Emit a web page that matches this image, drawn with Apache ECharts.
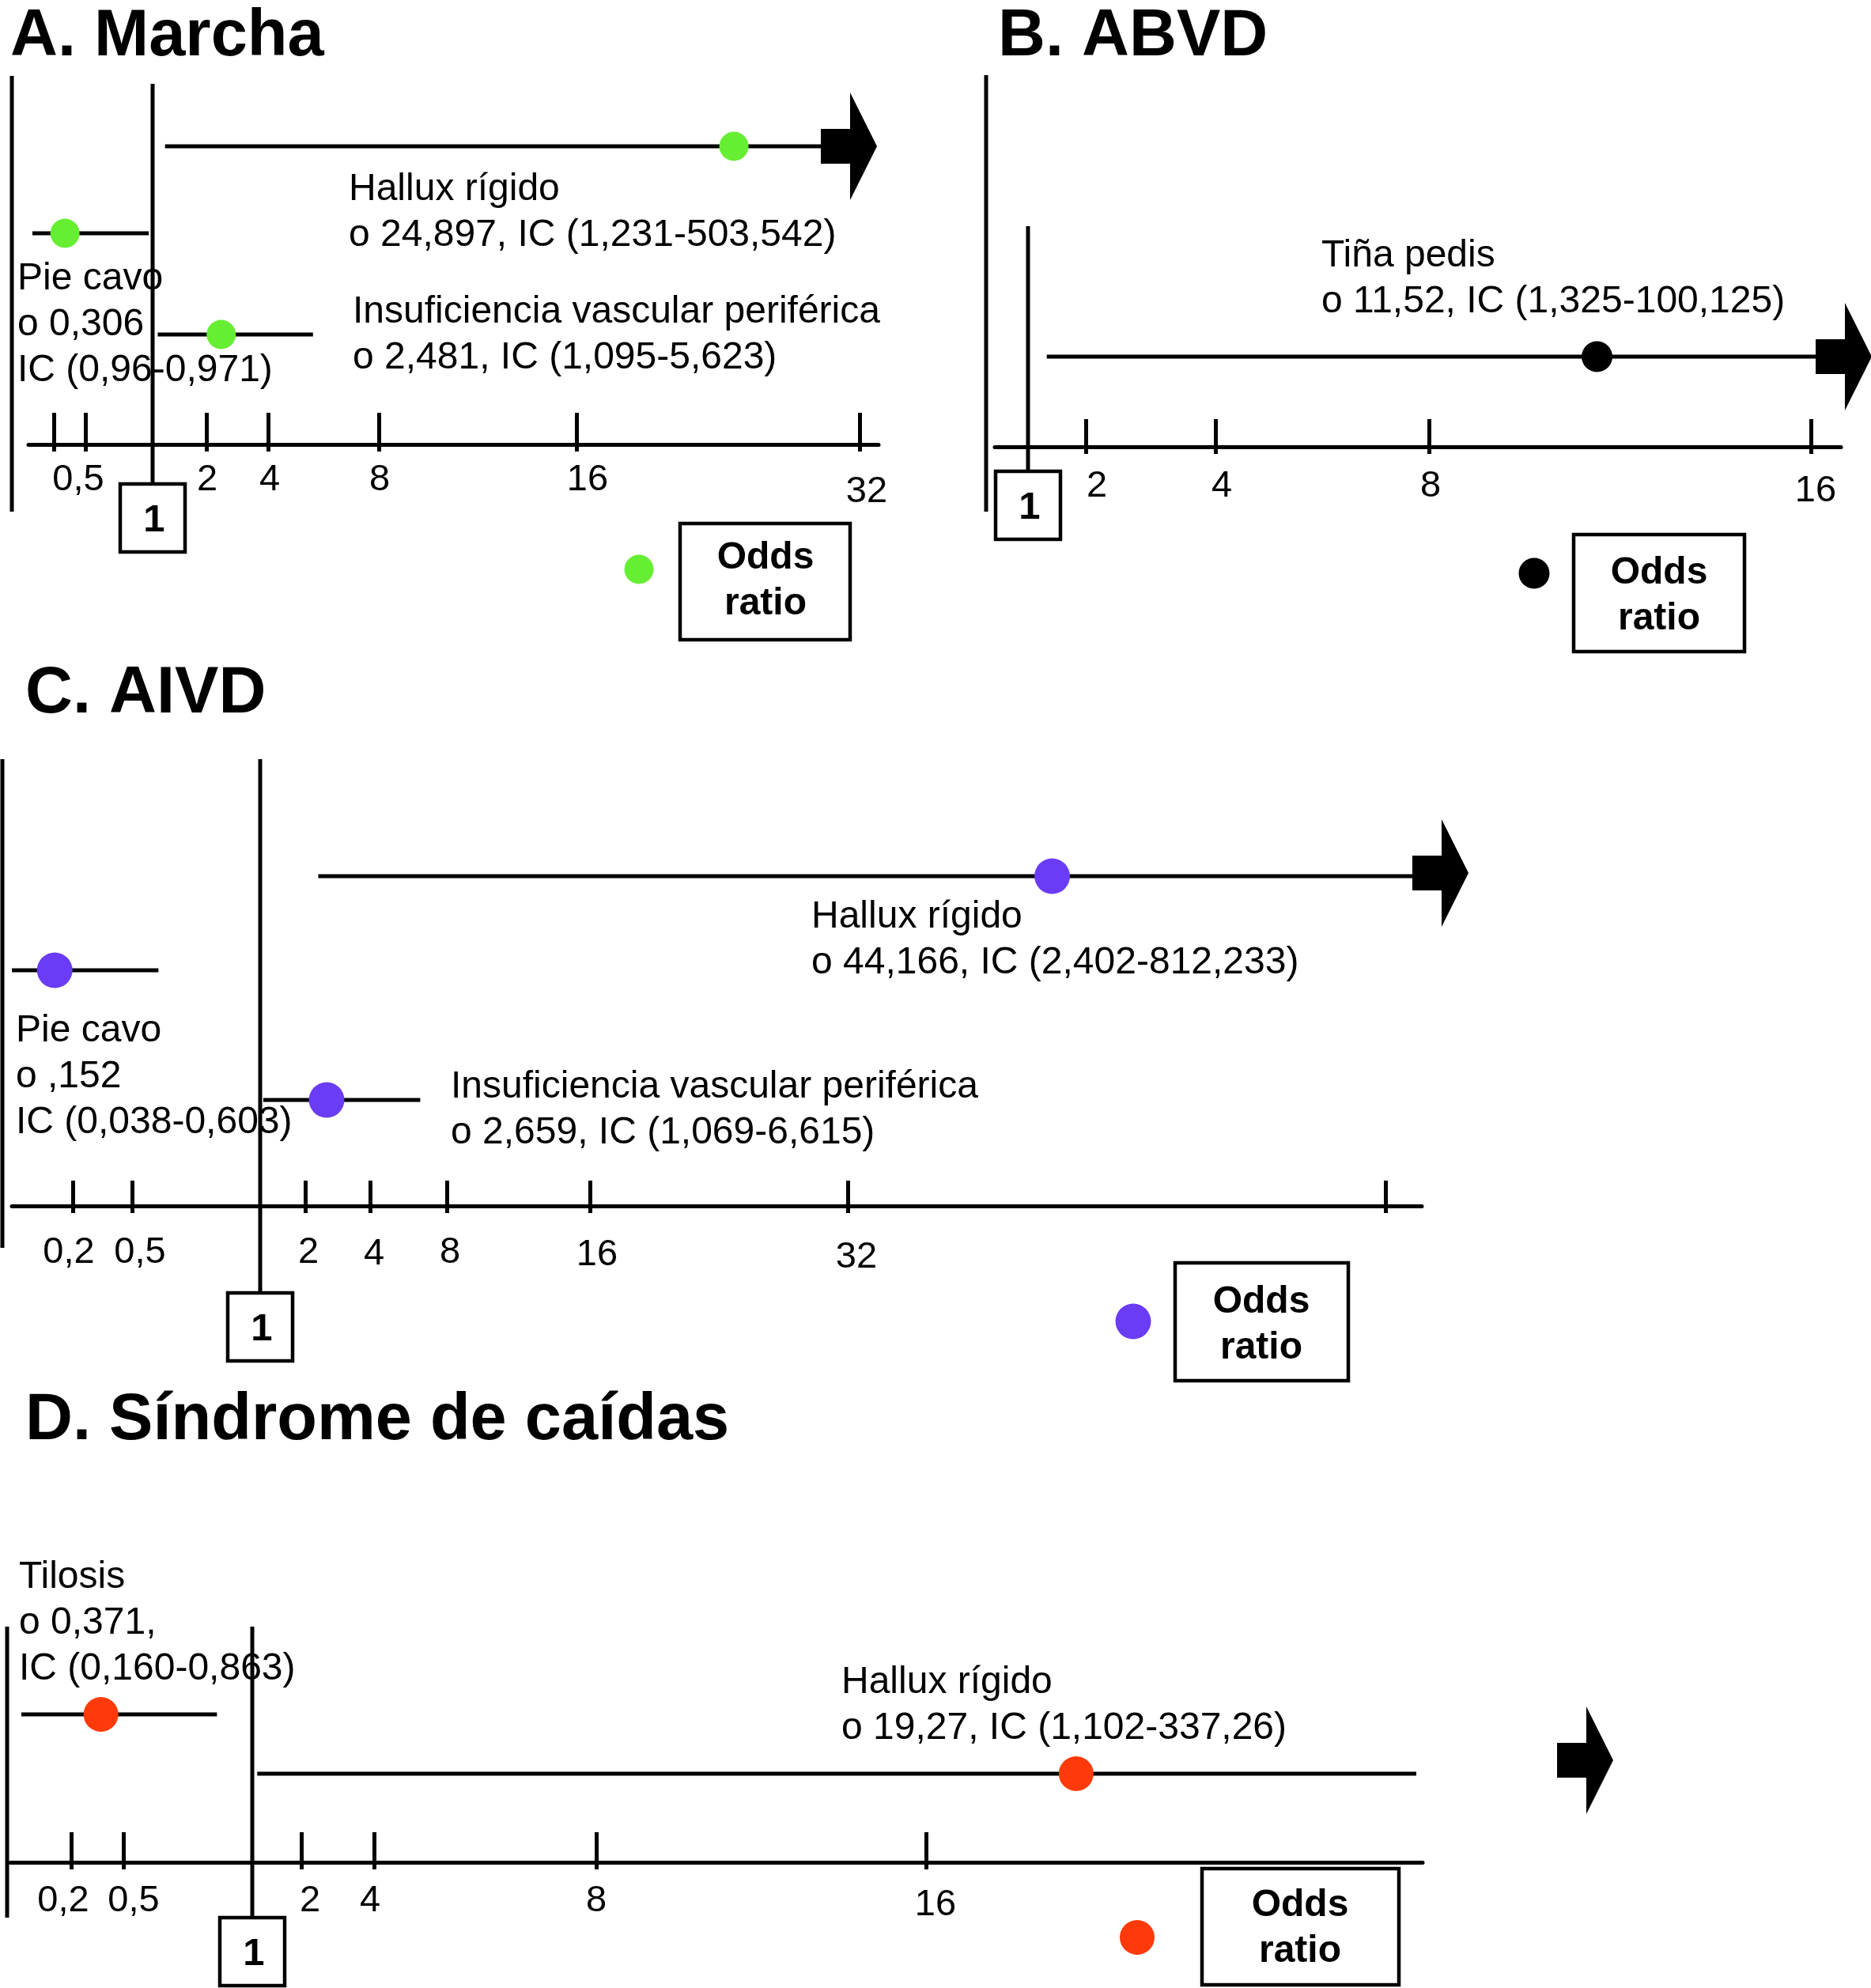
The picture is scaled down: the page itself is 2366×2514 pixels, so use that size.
<!DOCTYPE html>
<html>
<head>
<meta charset="utf-8">
<script src="https://cdn.jsdelivr.net/npm/echarts@6/dist/echarts.min.js"></script>
<style>
html,body{margin:0;padding:0;background:#ffffff;}
#chart{width:2366px;height:2514px;}
</style>
</head>
<body>
<div id="chart"></div>
<script>
// ===================== DATA =====================
// A. Marcha
const marchaFactors = ['Hallux rígido', 'Pie cavo', 'Insuficiencia vascular periférica'];
const marchaOR = [24.897, 0.306, 2.481];
const marchaLow = [1.231, 0.096, 1.095];
const marchaHigh = [503.542, 0.971, 5.623];
const marchaStats = ['o 24,897, IC (1,231-503,542)', 'o 0,306\nIC (0,96-0,971)', 'o 2,481, IC (1,095-5,623)'];
const marchaTicks = [0.2, 0.5, 2, 4, 8, 16, 32];
const marchaTickLabels = ['', '0,5', '2', '4', '8', '16', '32'];

// B. ABVD
const abvdFactors = ['Tiña pedis'];
const abvdOR = [11.52];
const abvdLow = [1.325];
const abvdHigh = [100.125];
const abvdStats = ['o 11,52, IC (1,325-100,125)'];
const abvdTicks = [2, 4, 8, 16];
const abvdTickLabels = ['2', '4', '8', '16'];

// C. AIVD
const aivdFactors = ['Hallux rígido', 'Pie cavo', 'Insuficiencia vascular periférica'];
const aivdOR = [44.166, 0.152, 2.659];
const aivdLow = [2.402, 0.038, 1.069];
const aivdHigh = [812.233, 0.603, 6.615];
const aivdStats = ['o 44,166, IC (2,402-812,233)', 'o ,152\nIC (0,038-0,603)', 'o 2,659, IC (1,069-6,615)'];
const aivdTicks = [0.2, 0.5, 2, 4, 8, 16, 32, 64];
const aivdTickLabels = ['0,2', '0,5', '2', '4', '8', '16', '32', ''];

// D. Síndrome de caídas
const caidasFactors = ['Tilosis', 'Hallux rígido'];
const caidasOR = [0.371, 19.27];
const caidasLow = [0.160, 1.102];
const caidasHigh = [0.863, 337.26];
const caidasStats = ['o 0,371,\nIC (0,160-0,863)', 'o 19,27, IC (1,102-337,26)'];
const caidasTicks = [0.2, 0.5, 2, 4, 8, 16];
const caidasTickLabels = ['0,2', '0,5', '2', '4', '8', '16'];

const panelTitles = ['A. Marcha', 'B. ABVD', 'C. AIVD', 'D. Síndrome de caídas'];
const refValue = 1;
const refLabel = '1';
const legendLabel = 'Odds\nratio';

// ===================== LAYOUT (pixels, styles) =====================
const FONT = "'Liberation Sans', Arial, Helvetica, sans-serif";
const LAYOUT = [
  { title:[13,47], axisY:562, x0:36, x1:1111, top:80, tickLen:40, labelMargin:45,
    tickPx:[68,108,261,339,479,729,1087], onePx:193, extra:[[0,16]],
    labelDx:[0,-9,1,2,1,14,9], labelDy:[0,0,0,0,0,0,15],
    rowY:[185,295,423], textXY:[[441,240],[22,353],[446,395]],
    lineEnd:1040, arrowX:1038, arrowDy:0,
    leftLine:[15,96,647], oneTop:106, boxTop:612,
    legDot:[808,720], legBox:[860,662,215,147], legText:[968,706],
    color:'#66EE33', dot:37 },
  { title:[1262,47], axisY:565, x0:1258, x1:2328, top:80, tickLen:35, labelMargin:50,
    tickPx:[1373,1537,1807,2290], onePx:1300, extra:[],
    labelDx:[14,8,2,6], labelDy:[0,0,0,6],
    rowY:[451], textXY:[[1671,324]],
    lineEnd:2296, arrowX:2296, arrowDy:0,
    leftLine:[1247,95,647], oneTop:286, boxTop:596,
    legDot:[1940,725], legBox:[1990,676,216,148], legText:[2098,725],
    color:'#000000', dot:39 },
  { title:[32,878], axisY:1525, x0:15, x1:1798, top:940, tickLen:32, labelMargin:59,
    tickPx:[92,167,386,468,565,746,1072,1752], onePx:329, extra:[[0,-3]],
    labelDx:[-5,10,4,5,4,9,11,0], labelDy:[0,0,0,2,0,3,6,0],
    rowY:[1108,1227,1391], textXY:[[1026,1160],[20,1304],[570,1375]],
    lineEnd:1786, arrowX:1786, arrowDy:-4,
    leftLine:[3,960,1578], oneTop:960, boxTop:1635,
    legDot:[1433,1671], legBox:[1486,1597,219,149], legText:[1595,1647],
    color:'#6A3CF5', dot:45 },
  { title:[32,1797], axisY:2355, x0:13, x1:1799, top:1900, tickLen:38, labelMargin:49,
    tickPx:[90,156,381,473,754,1171], onePx:319, extra:[[0,-225],[32,2100]],
    labelDx:[-10,13,11,-5,0,12], labelDy:[0,0,0,0,0,5],
    rowY:[2168,2243], textXY:[[24,1995],[1064,2128]],
    lineEnd:1791, arrowX:1969, arrowDy:-17,
    leftLine:[9,2057,2425], oneTop:2057, boxTop:2425,
    legDot:[1438,2450], legBox:[1520,2363,249,147], legText:[1644,2410],
    color:'#FF3A0A', dot:44 }
];

const PANELS = [
  {factors:marchaFactors, or:marchaOR, low:marchaLow, high:marchaHigh, stats:marchaStats, ticks:marchaTicks, tickLabels:marchaTickLabels},
  {factors:abvdFactors, or:abvdOR, low:abvdLow, high:abvdHigh, stats:abvdStats, ticks:abvdTicks, tickLabels:abvdTickLabels},
  {factors:aivdFactors, or:aivdOR, low:aivdLow, high:aivdHigh, stats:aivdStats, ticks:aivdTicks, tickLabels:aivdTickLabels},
  {factors:caidasFactors, or:caidasOR, low:caidasLow, high:caidasHigh, stats:caidasStats, ticks:caidasTicks, tickLabels:caidasTickLabels}
];

// piecewise scale matching the hand-drawn axis
function makeScale(anchors){
  const a = anchors.slice().sort((p,q)=>p[0]-q[0]);
  return function(v){
    let i = 0;
    while (i < a.length - 2 && v > a[i+1][0]) i++;
    const v0 = a[i][0], x0 = a[i][1], v1 = a[i+1][0], x1 = a[i+1][1];
    return x0 + (v - v0) / (v1 - v0) * (x1 - x0);
  };
}

const grids = [], xAxes = [], yAxes = [], series = [], graphics = [];

PANELS.forEach(function(P, i){
  const L = LAYOUT[i];
  const anchors = P.ticks.map((t,k)=>[t, L.tickPx[k]]).concat([[refValue, L.onePx]], L.extra);
  const f = makeScale(anchors);
  const tickPos = P.ticks.map(f);

  const rich = {};
  P.tickLabels.forEach(function(lab, k){
    const dx = L.labelDx[k] || 0, dy = L.labelDy[k] || 0;
    rich['t' + k] = {fontSize:47, fontFamily:FONT, color:'#000',
      padding:[dy > 0 ? 2*dy : 0, dx < 0 ? -2*dx : 0, dy < 0 ? -2*dy : 0, dx > 0 ? 2*dx : 0]};
  });

  grids.push({left:L.x0, top:L.top, width:L.x1 - L.x0, height:L.axisY - L.top,
              containLabel:false, outerBoundsMode:'none', show:false});
  const xIdx = xAxes.length;
  xAxes.push({
    gridIndex:i, type:'value', min:L.x0, max:L.x1, position:'bottom',
    axisLine:{show:true, onZero:false, lineStyle:{color:'#000', width:5}},
    axisTick:{show:true, inside:true, length:L.tickLen, customValues:tickPos,
              lineStyle:{color:'#000', width:5}},
    axisLabel:{show:true, customValues:tickPos, margin:L.labelMargin, verticalAlign:'middle',
               hideOverlap:false, fontSize:47, color:'#000', fontFamily:FONT, rich:rich,
               formatter:function(v){
                 const k = tickPos.findIndex(t=>Math.abs(t - v) < 0.5);
                 if (k < 0 || !P.tickLabels[k]) return '';
                 return '{t' + k + '|' + P.tickLabels[k] + '}';
               }},
    splitLine:{show:false}, minorTick:{show:false}
  });
  // short stubs of the same ticks below the axis line
  xAxes.push({
    gridIndex:i, type:'value', min:L.x0, max:L.x1, position:'bottom',
    axisLine:{show:false, onZero:false},
    axisTick:{show:true, inside:false, length:9, customValues:tickPos,
              lineStyle:{color:'#000', width:5}},
    axisLabel:{show:false}, splitLine:{show:false}
  });
  yAxes.push({gridIndex:i, type:'value', min:L.top, max:L.axisY, inverse:true, show:false});

  // frame: left border line, reference line at OR = 1 and its boxed label
  series.push({
    type:'custom', xAxisIndex:xIdx, yAxisIndex:i, clip:false, silent:true, z:1,
    data:[[f(refValue), L.oneTop]],
    encode:{x:0, y:1},
    renderItem:function(params, api){
      const ox = api.value(0);
      const t = api.coord([ox, L.oneTop]);
      const b = api.coord([ox, L.boxTop]);
      const lt = api.coord([L.leftLine[0], L.leftLine[1]]);
      const lb = api.coord([L.leftLine[0], L.leftLine[2]]);
      return {type:'group', children:[
        {type:'line', shape:{x1:lt[0], y1:lt[1], x2:lb[0], y2:lb[1]}, style:{stroke:'#000', lineWidth:5}},
        {type:'line', shape:{x1:t[0], y1:t[1], x2:b[0], y2:b[1]}, style:{stroke:'#000', lineWidth:5}},
        {type:'rect', shape:{x:b[0]-41, y:b[1], width:82, height:86},
         style:{fill:'#fff', stroke:'#000', lineWidth:4.5}},
        {type:'text', x:b[0]+2, y:b[1]+46,
         style:{text:refLabel, fill:'#000', font:'bold 49px ' + FONT, align:'center', verticalAlign:'middle'}}
      ]};
    }
  });

  // confidence intervals (with arrow when the interval leaves the axis)
  series.push({
    type:'custom', xAxisIndex:xIdx, yAxisIndex:i, clip:false, silent:true, z:2,
    data:P.low.map((lo,k)=>[f(lo), f(P.high[k]), L.rowY[k]]),
    encode:{x:[0,1], y:2},
    renderItem:function(params, api){
      const xl = api.value(0), xh = api.value(1), y = api.value(2);
      const a = api.coord([xl, y]);
      const b = api.coord([Math.min(xh, L.lineEnd), y]);
      const children = [{type:'line', shape:{x1:a[0], y1:a[1], x2:b[0], y2:b[1]},
                         style:{stroke:'#000', lineWidth:5}}];
      if (xh > L.lineEnd) {
        const c = api.coord([L.arrowX, y]);
        const x = c[0], cy = c[1] + L.arrowDy;
        children.push({type:'polygon', shape:{points:[
          [x, cy-22],[x+37, cy-22],[x+37, cy-68],[x+71, cy],[x+37, cy+68],[x+37, cy+22],[x, cy+22]
        ]}, style:{fill:'#000'}});
      }
      return {type:'group', children:children};
    }
  });

  // odds ratio points
  series.push({
    type:'scatter', xAxisIndex:xIdx, yAxisIndex:i, z:3, silent:true,
    symbol:'circle', symbolSize:L.dot,
    itemStyle:{color:L.color, opacity:1},
    data:P.or.map((v,k)=>[f(v), L.rowY[k]])
  });

  // title
  graphics.push({type:'text', x:L.title[0], y:L.title[1], z:10,
    style:{text:panelTitles[i], fill:'#000', font:'bold 83px ' + FONT, align:'left', verticalAlign:'middle'}});

  // annotations
  P.factors.forEach(function(name, k){
    graphics.push({type:'text', x:L.textXY[k][0], y:L.textXY[k][1] - 29, z:10,
      style:{text:name + '\n' + P.stats[k], fill:'#000', fontSize:48, fontFamily:FONT,
             lineHeight:58, align:'left', verticalAlign:'top'}});
  });

  // legend
  graphics.push({type:'circle', z:10, shape:{cx:L.legDot[0], cy:L.legDot[1], r:L.dot/2}, style:{fill:L.color}});
  graphics.push({type:'rect', z:10, shape:{x:L.legBox[0], y:L.legBox[1], width:L.legBox[2], height:L.legBox[3]},
    style:{fill:'#fff', stroke:'#000', lineWidth:4.5}});
  graphics.push({type:'text', z:11, x:L.legText[0], y:L.legText[1] - 29,
    style:{text:legendLabel, fill:'#000', fontSize:48, fontWeight:'bold', fontFamily:FONT,
           lineHeight:58, align:'center', verticalAlign:'top'}});
});

const chart = echarts.init(document.getElementById('chart'), null, {renderer:'canvas', width:2366, height:2514});
chart.setOption({
  backgroundColor:'#ffffff',
  animation:false,
  grid:grids,
  xAxis:xAxes,
  yAxis:yAxes,
  series:series,
  graphic:{elements:graphics}
});
</script>
</body>
</html>
